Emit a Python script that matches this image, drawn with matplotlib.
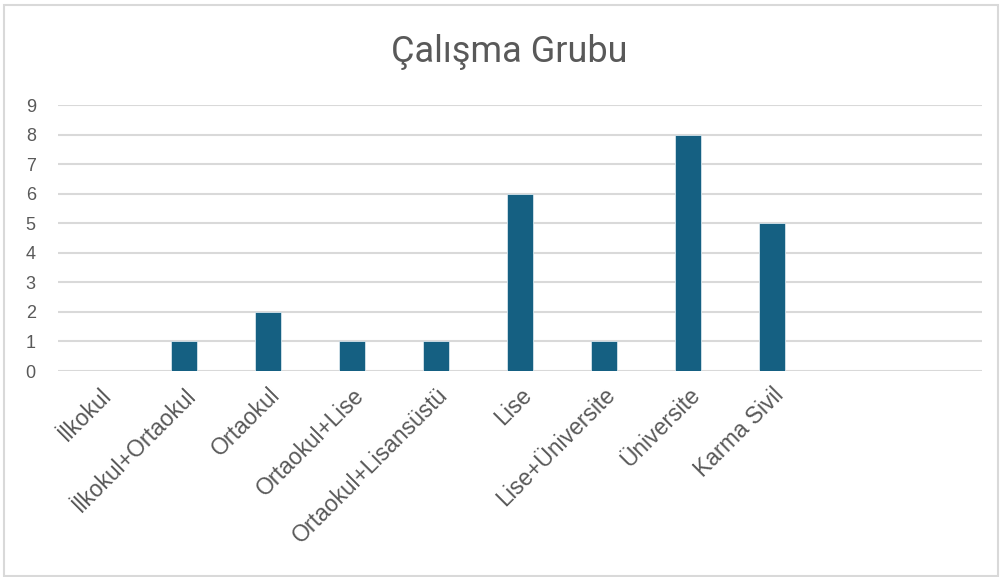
import matplotlib
matplotlib.use('Agg')
import matplotlib.pyplot as plt
from matplotlib.patches import Rectangle

categories = ['İlkokul', 'İlkokul+Ortaokul', 'Ortaokul', 'Ortaokul+Lise',
              'Ortaokul+Lisansüstü', 'Lise', 'Lise+Üniversite', 'Üniversite',
              'Karma Sivil', '', '']
counts = [0, 1, 2, 1, 1, 6, 1, 8, 5, 0, 0]
y_ticks = list(range(0, 10))

BAR_COLOR = '#156082'
GRID_COLOR = '#D9D9D9'
TEXT_COLOR = '#595959'

fig = plt.figure(figsize=(10, 5.77), dpi=100)
fig.patches.append(Rectangle((0.004, 0.002), 0.994, 0.99, transform=fig.transFigure,
                             fill=False, edgecolor='#D9D9D9', linewidth=1.5))

ax = fig.add_axes([0.058, 0.357, 0.924, 0.461])
x = range(len(categories))
ax.bar(x, counts, width=0.3, color=BAR_COLOR, edgecolor='#D6E4EC',
       linewidth=0.6, zorder=3)

ax.set_xlim(-0.5, len(categories) - 0.5)
ax.set_ylim(0, 9)
ax.set_yticks(y_ticks)
ax.set_xticks(list(x))
ax.set_xticklabels(categories, rotation=45, ha='right', va='top',
                   rotation_mode='anchor', fontsize=16.5, color=TEXT_COLOR,
                   family='Liberation Sans')
for lbl in ax.get_yticklabels():
    lbl.set_family('Liberation Sans')
ax.tick_params(axis='y', length=0, pad=16, labelsize=13, labelcolor=TEXT_COLOR)
ax.tick_params(axis='x', length=0, pad=9)
ax.yaxis.grid(True, color=GRID_COLOR, linewidth=1.5, zorder=0)
ax.set_axisbelow(True)
for s in ax.spines.values():
    s.set_visible(False)

fig.text(0.509, 0.91, 'Çalışma Grubu', ha='center', va='center',
         fontsize=26, color=TEXT_COLOR, family='Roboto')

fig.savefig('out.png', dpi=100)
